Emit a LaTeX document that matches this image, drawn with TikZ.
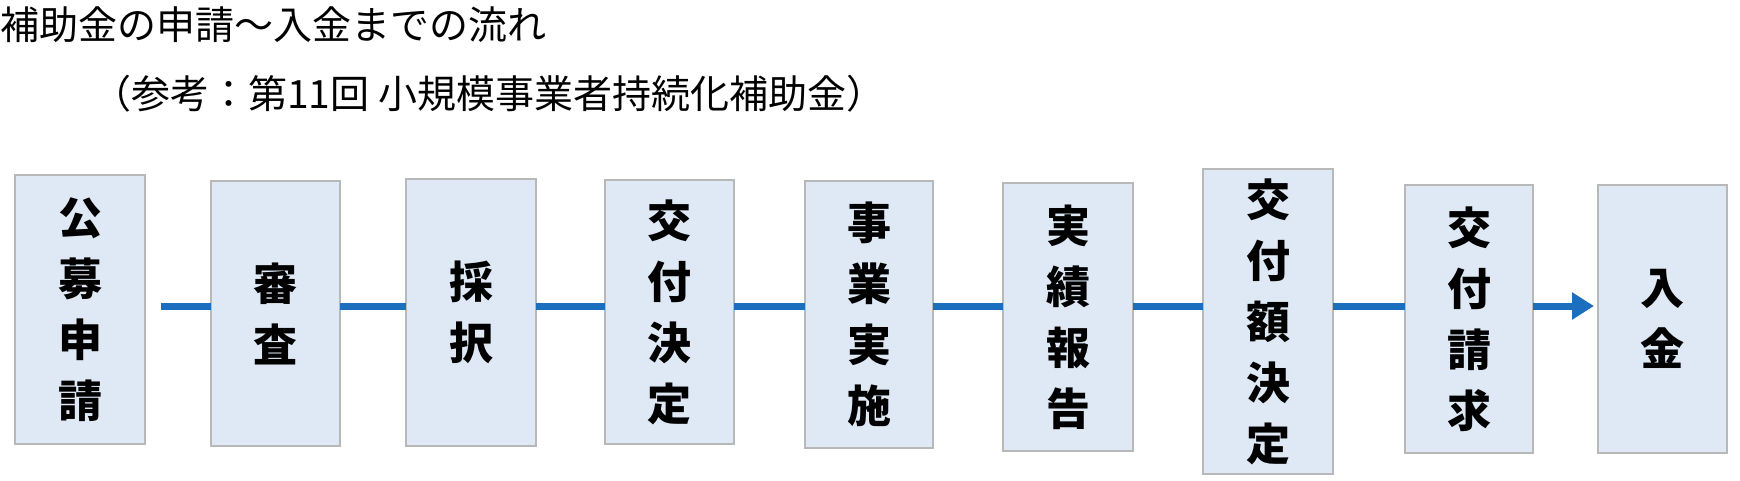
\documentclass[tikz,border=0pt]{standalone}
\usepackage{fontspec}
\setmainfont{Noto Sans CJK JP}
\usetikzlibrary{arrows.meta}
\definecolor{boxfill}{HTML}{DEE9F5}
\definecolor{boxline}{HTML}{B8B8B8}
\definecolor{flow}{HTML}{1C6FBE}
\tikzset{
  stepbox/.style={draw=boxline,line width=2pt,fill=boxfill,inner sep=0pt},
  boxtxt/.style={font=\fontsize{44}{61}\selectfont\bfseries,align=center},
  flowline/.style={draw=flow,line width=7pt},
}
\begin{document}
\begin{tikzpicture}[x=1pt,y=-1pt]
\useasboundingbox (0,0) rectangle (1740,480);
\node[anchor=west,font=\fontsize{39}{44}\selectfont,inner sep=0pt] (t1) at (0,25) {補助金の申請～入金までの流れ};
\node[anchor=west,font=\fontsize{39}{44}\selectfont,inner sep=0pt] (t2) at (92,94) {（参考：第11回 小規模事業者持続化補助金）};
\def\mkbox#1#2#3#4#5#6{\path[stepbox] (#2,#4) rectangle (#3,#5);
  \node[boxtxt] (#1) at ({(#2+#3)/2},{(#4+#5)/2}) {#6};
  \coordinate (#1w) at (#2,306); \coordinate (#1e) at (#3,306);}
\mkbox{b1}{15}{145}{175}{444}{公\\募\\申\\請}
\mkbox{b2}{211}{340}{181}{446}{審\\査}
\mkbox{b3}{406}{536}{179}{446}{採\\択}
\mkbox{b4}{605}{734}{180}{444}{交\\付\\決\\定}
\mkbox{b5}{805}{933}{181}{448}{事\\業\\実\\施}
\mkbox{b6}{1003}{1133}{183}{451}{実\\績\\報\\告}
\mkbox{b7}{1203}{1333}{169}{474}{交\\付\\額\\決\\定}
\mkbox{b8}{1405}{1533}{185}{453}{交\\付\\請\\求}
\mkbox{b9}{1598}{1727}{185}{453}{入\\金}
\coordinate (s0) at (161,306);
\draw[flowline] (s0) -- (b2w);
\draw[flowline] (b2e) -- (b3w);
\draw[flowline] (b3e) -- (b4w);
\draw[flowline] (b4e) -- (b5w);
\draw[flowline] (b5e) -- (b6w);
\draw[flowline] (b6e) -- (b7w);
\draw[flowline] (b7e) -- (b8w);
\coordinate (tip) at (1594,306);
\draw[flowline,-{Triangle[length=22pt,width=26pt]}] (b8e) -- (tip);
\end{tikzpicture}
\end{document}
